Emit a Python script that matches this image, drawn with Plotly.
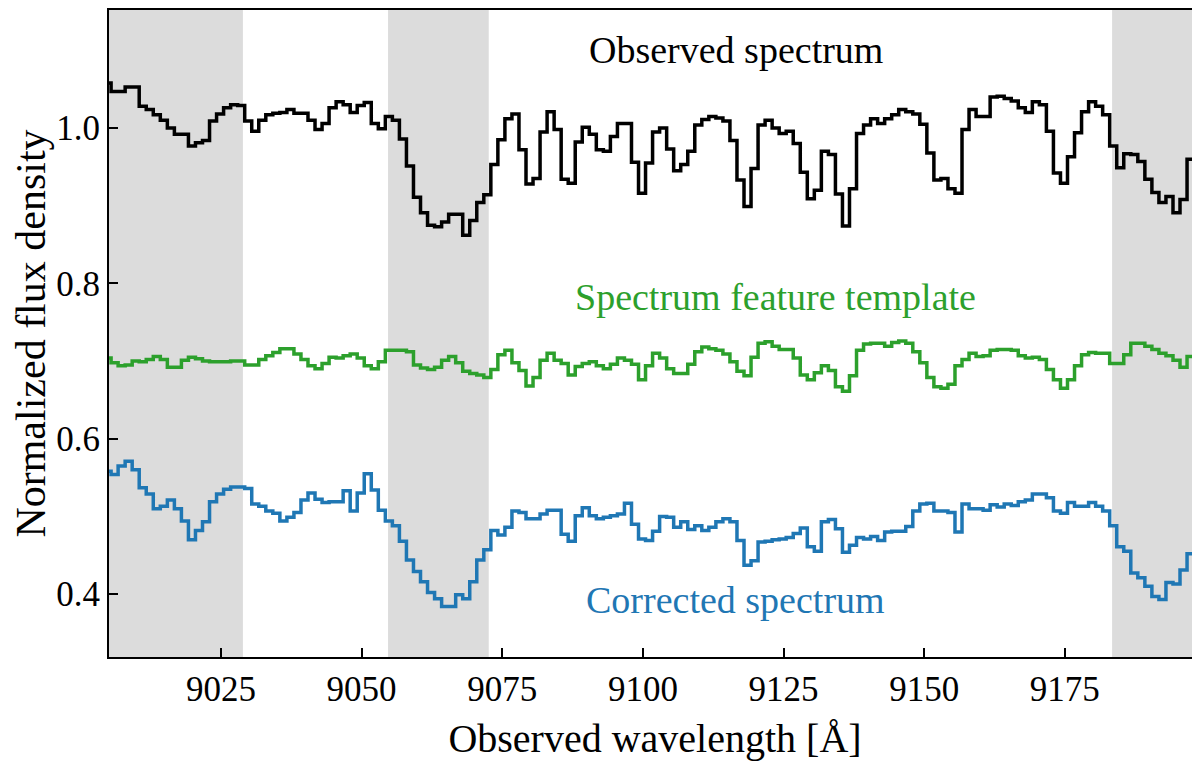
import numpy as np
import plotly.graph_objects as go

# wavelength grid: uniform 1.25 A bins (bin centres)
WAVE_START = 9004.845
BIN = 1.25

observed = [
    1.058, 1.047, 1.047, 1.053, 1.053, 1.028, 1.024, 1.017, 1.010, 1.000,
    0.992, 0.992, 0.977, 0.981, 0.984, 1.009, 1.018, 1.026, 1.030, 1.029,
    1.009, 0.996, 1.010, 1.017, 1.019, 1.020, 1.024, 1.019, 1.019, 1.010,
    0.998, 1.006, 1.026, 1.034, 1.030, 1.020, 1.029, 1.033, 1.006, 0.999,
    1.015, 1.010, 0.986, 0.951, 0.911, 0.891, 0.875, 0.873, 0.879, 0.889,
    0.889, 0.862, 0.881, 0.904, 0.914, 0.953, 0.985, 1.012, 1.018, 0.972,
    0.928, 0.935, 0.995, 1.021, 0.998, 0.934, 0.929, 0.982, 1.001, 0.992,
    0.972, 0.970, 0.989, 1.006, 1.006, 0.956, 0.916, 0.955, 0.995, 1.000,
    0.973, 0.945, 0.953, 0.970, 1.004, 1.011, 1.015, 1.013, 1.009, 0.984,
    0.933, 0.899, 0.948, 1.004, 1.010, 1.000, 0.993, 0.996, 0.980, 0.943,
    0.909, 0.920, 0.970, 0.966, 0.915, 0.874, 0.922, 0.993, 1.004, 1.012,
    1.006, 1.012, 1.017, 1.024, 1.021, 1.018, 1.005, 0.968, 0.933, 0.935,
    0.922, 0.916, 0.998, 1.024, 1.015, 1.015, 1.040, 1.041, 1.038, 1.035,
    1.026, 1.020, 1.034, 1.030, 0.996, 0.942, 0.929, 0.963, 0.994, 1.021,
    1.034, 1.028, 1.017, 0.977, 0.949, 0.967, 0.966, 0.957, 0.934, 0.917,
    0.904, 0.912, 0.891, 0.908, 0.960, 0.992,
]

template = [
    0.704, 0.698, 0.694, 0.695, 0.700, 0.699, 0.702, 0.706, 0.702, 0.692,
    0.692, 0.701, 0.705, 0.703, 0.700, 0.699, 0.699, 0.699, 0.700, 0.700,
    0.695, 0.695, 0.702, 0.707, 0.711, 0.716, 0.716, 0.709, 0.702, 0.694,
    0.690, 0.697, 0.705, 0.704, 0.707, 0.709, 0.704, 0.694, 0.690, 0.699,
    0.714, 0.714, 0.714, 0.712, 0.695, 0.691, 0.689, 0.692, 0.701, 0.706,
    0.698, 0.687, 0.684, 0.682, 0.679, 0.689, 0.708, 0.714, 0.698, 0.688,
    0.668, 0.679, 0.701, 0.710, 0.701, 0.697, 0.682, 0.693, 0.697, 0.699,
    0.694, 0.690, 0.696, 0.704, 0.701, 0.696, 0.676, 0.694, 0.710, 0.704,
    0.690, 0.684, 0.684, 0.696, 0.712, 0.718, 0.716, 0.714, 0.709, 0.699,
    0.687, 0.681, 0.705, 0.723, 0.725, 0.719, 0.715, 0.715, 0.704, 0.682,
    0.676, 0.685, 0.694, 0.688, 0.667, 0.661, 0.681, 0.714, 0.722, 0.723,
    0.723, 0.719, 0.724, 0.726, 0.723, 0.712, 0.698, 0.679, 0.667, 0.665,
    0.670, 0.694, 0.702, 0.710, 0.706, 0.707, 0.714, 0.715, 0.715, 0.714,
    0.707, 0.704, 0.705, 0.702, 0.689, 0.676, 0.665, 0.676, 0.694, 0.708,
    0.711, 0.710, 0.710, 0.697, 0.697, 0.708, 0.723, 0.723, 0.719, 0.715,
    0.710, 0.707, 0.701, 0.692, 0.706, 0.714,
]

corrected = [
    0.558, 0.554, 0.565, 0.571, 0.560, 0.537, 0.529, 0.510, 0.513, 0.521,
    0.510, 0.494, 0.470, 0.482, 0.493, 0.519, 0.529, 0.535, 0.538, 0.538,
    0.536, 0.516, 0.513, 0.507, 0.504, 0.494, 0.499, 0.505, 0.521, 0.530,
    0.522, 0.518, 0.519, 0.519, 0.533, 0.507, 0.530, 0.555, 0.534, 0.508,
    0.494, 0.488, 0.468, 0.444, 0.429, 0.416, 0.402, 0.394, 0.384, 0.384,
    0.399, 0.394, 0.416, 0.444, 0.457, 0.482, 0.476, 0.486, 0.507, 0.505,
    0.497, 0.497, 0.503, 0.508, 0.508, 0.477, 0.468, 0.501, 0.511, 0.501,
    0.497, 0.499, 0.501, 0.503, 0.517, 0.490, 0.471, 0.469, 0.481, 0.500,
    0.499, 0.486, 0.493, 0.483, 0.488, 0.482, 0.486, 0.493, 0.497, 0.493,
    0.469, 0.437, 0.443, 0.467, 0.468, 0.470, 0.471, 0.473, 0.478, 0.485,
    0.461, 0.455, 0.493, 0.496, 0.484, 0.454, 0.463, 0.473, 0.471, 0.474,
    0.469, 0.480, 0.481, 0.481, 0.487, 0.507, 0.516, 0.517, 0.507, 0.507,
    0.505, 0.480, 0.516, 0.510, 0.510, 0.508, 0.515, 0.512, 0.516, 0.514,
    0.519, 0.521, 0.529, 0.529, 0.524, 0.507, 0.504, 0.518, 0.513, 0.513,
    0.518, 0.513, 0.507, 0.488, 0.461, 0.455, 0.427, 0.421, 0.410, 0.397,
    0.393, 0.415, 0.413, 0.431, 0.452, 0.470,
]

# masked (shaded) wavelength windows
bands = [(9000.0, 9028.9), (9054.7, 9072.6), (9183.4, 9210.0)]

x_range = [9005.1, 9199.2]
y_range = [0.319, 1.152]

wave = WAVE_START + BIN * np.arange(len(observed))

FONT = "Liberation Serif"

fig = go.Figure()

series = [
    (observed, "#000000", "Observed spectrum"),
    (template, "#2ca02c", "Spectrum feature template"),
    (corrected, "#1f77b4", "Corrected spectrum"),
]
for vals, col, name in series:
    fig.add_trace(go.Scatter(
        x=wave, y=vals, mode="lines", name=name,
        line=dict(color=col, width=3.5, shape="hvh"),
        showlegend=False,
    ))

for x0, x1 in bands:
    fig.add_shape(type="rect", xref="x", yref="paper",
                  x0=max(x0, x_range[0]), x1=min(x1, x_range[1]), y0=0, y1=1,
                  fillcolor="#dcdcdc", line=dict(width=0), layer="below")

# curve labels
labels = [
    (9116.5, 1.100, "Observed spectrum", "#000000"),
    (9123.5, 0.782, "Spectrum feature template", "#2ca02c"),
    (9116.5, 0.392, "Corrected spectrum", "#1f77b4"),
]
for lx, ly, txt, col in labels:
    fig.add_annotation(x=lx, y=ly, text=txt, showarrow=False,
                       font=dict(family=FONT, size=38, color=col))

axis_common = dict(
    showline=True, linecolor="black", linewidth=2, mirror=True,
    ticks="inside", ticklen=9, tickwidth=2, tickcolor="black",
    showgrid=False, zeroline=False,
    tickfont=dict(family=FONT, size=35, color="black"),
)

fig.update_xaxes(
    range=x_range, tickvals=[9025, 9050, 9075, 9100, 9125, 9150, 9175],
    title=dict(text="Observed wavelength [Å]", font=dict(family=FONT, size=40, color="black"), standoff=16),
    **axis_common,
)
fig.update_yaxes(
    range=y_range, tickvals=[0.4, 0.6, 0.8, 1.0], tickformat=".1f",
    title=dict(text="Normalized flux density", font=dict(family=FONT, size=42, color="black"), standoff=10),
    **axis_common,
)

fig.update_layout(
    width=1200, height=768,
    margin=dict(l=101, r=7, t=0, b=119),
    paper_bgcolor="white", plot_bgcolor="white",
    font=dict(family=FONT),
)

fig.write_html("out.html")
